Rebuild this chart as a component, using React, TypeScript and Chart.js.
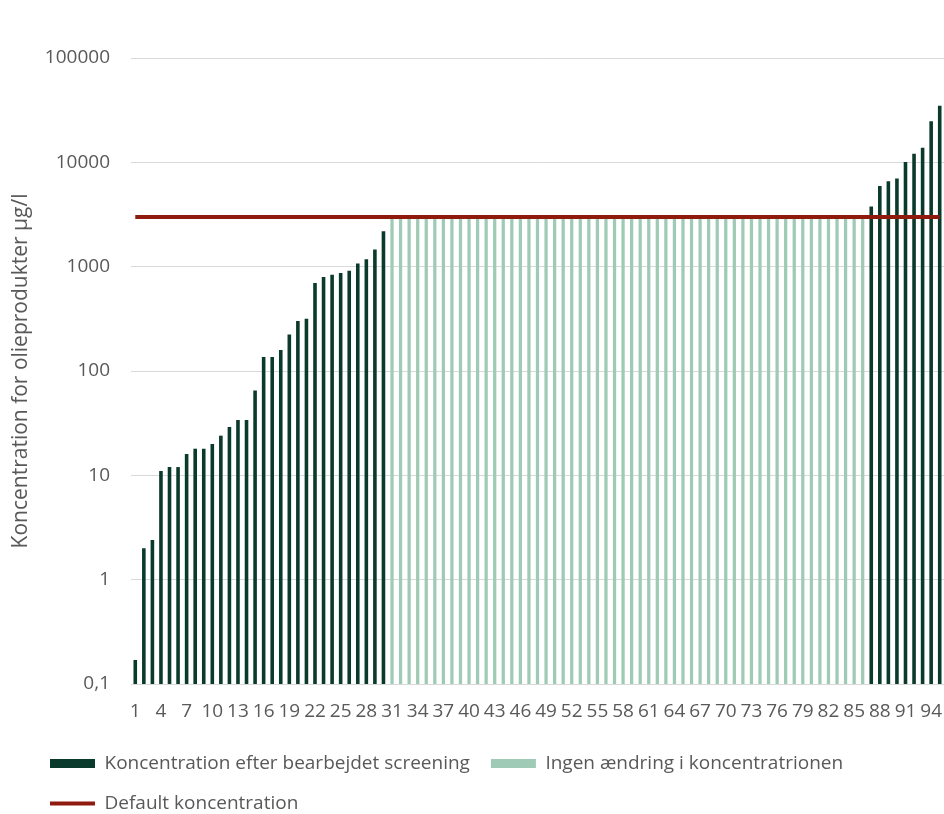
import React, { useEffect, useRef } from "react";
import { Chart, registerables } from "chart.js";

Chart.register(...registerables);

const categories: string[] = [
  "1", "2", "3", "4", "5", "6", "7", "8", "9", "10",
  "11", "12", "13", "14", "15", "16", "17", "18", "19", "20",
  "21", "22", "23", "24", "25", "26", "27", "28", "29", "30",
  "31", "32", "33", "34", "35", "36", "37", "38", "39", "40",
  "41", "42", "43", "44", "45", "46", "47", "48", "49", "50",
  "51", "52", "53", "54", "55", "56", "57", "58", "59", "60",
  "61", "62", "63", "64", "65", "66", "67", "68", "69", "70",
  "71", "72", "73", "74", "75", "76", "77", "78", "79", "80",
  "81", "82", "83", "84", "85", "86", "87", "88", "89", "90",
  "91", "92", "93", "94", "95",
];

// Koncentration efter bearbejdet screening (µg/l)
const screened: (number | null)[] = [
  0.17, 2, 2.4, 11, 12, 12, 16, 18, 18, 20,
  24, 29, 34, 34, 65, 136, 136, 159, 224, 302,
  317, 697, 794, 838, 870, 912, 1070, 1180, 1460, 2180,
  null, null, null, null, null, null, null, null, null, null,
  null, null, null, null, null, null, null, null, null, null,
  null, null, null, null, null, null, null, null, null, null,
  null, null, null, null, null, null, null, null, null, null,
  null, null, null, null, null, null, null, null, null, null,
  null, null, null, null, null, null,
  3770, 5930, 6580, 7000, 10100, 12100, 13800, 24800, 34800,
];

// Ingen ændring i koncentrationen (µg/l)
const unchanged: (number | null)[] = [
  null, null, null, null, null, null, null, null, null, null,
  null, null, null, null, null, null, null, null, null, null,
  null, null, null, null, null, null, null, null, null, null,
  3000, 3000, 3000, 3000, 3000, 3000, 3000, 3000, 3000, 3000,
  3000, 3000, 3000, 3000, 3000, 3000, 3000, 3000, 3000, 3000,
  3000, 3000, 3000, 3000, 3000, 3000, 3000, 3000, 3000, 3000,
  3000, 3000, 3000, 3000, 3000, 3000, 3000, 3000, 3000, 3000,
  3000, 3000, 3000, 3000, 3000, 3000, 3000, 3000, 3000, 3000,
  3000, 3000, 3000, 3000, 3000, 3000,
  null, null, null, null, null, null, null, null, null,
];

// Default koncentration: a flat line from the first to the last category
const defaultLine = [
  { x: "1", y: 3000 },
  { x: "95", y: 3000 },
];

const yTicks: number[] = [0.1, 1, 10, 100, 1000, 10000, 100000];
const yTickLabels: string[] = ["0,1", "1", "10", "100", "1000", "10000", "100000"];

const DARK = "#0a3a2b";
const LIGHT = "#9fcab5";
const RED = "#8e1b0d";
const TEXT = "#595959";
const GRID = "#d9d9d9";
const FONT = "'Open Sans', sans-serif";

const legendShift = {
  id: "legendShift",
  afterLayout(chart: any) {
    const lg = chart.legend;
    if (!lg) return;
    const dy = 733 - lg.top;
    lg.top += dy;
    lg.bottom += dy;
    const dx = 29 - lg.left;
    lg.left += dx;
    lg.right += dx;
  },
};

export default function App() {
  const ref = useRef<HTMLCanvasElement>(null);

  useEffect(() => {
    if (!ref.current) return;
    const chart = new Chart(ref.current, {
      type: "bar",
      data: {
        labels: categories,
        datasets: [
          {
            type: "line",
            label: "Default koncentration",
            data: defaultLine as any,
            borderColor: RED,
            backgroundColor: RED,
            borderWidth: 4,
            pointRadius: 0,
            pointHoverRadius: 0,
            order: 0,
            pointStyle: "line",
          } as any,
          {
            label: "Koncentration efter bearbejdet screening",
            data: screened,
            backgroundColor: DARK,
            borderWidth: 0,
            barPercentage: 0.42,
            categoryPercentage: 1,
            grouped: false,
            order: 1,
            pointStyle: "rect",
          } as any,
          {
            label: "Ingen ændring i koncentratrionen",
            data: unchanged,
            backgroundColor: LIGHT,
            borderWidth: 0,
            barPercentage: 0.38,
            categoryPercentage: 1,
            grouped: false,
            order: 2,
            pointStyle: "rect",
          } as any,
        ],
      },
      options: {
        animation: false,
        responsive: false,
        layout: { padding: { top: 58, left: 0, right: 0, bottom: 0 } },
        plugins: {
          tooltip: { enabled: false },
          legend: {
            position: "bottom",
            align: "start",
            labels: {
              usePointStyle: true,
              pointStyleWidth: 45,
              boxHeight: 9,
              padding: 21,
              color: TEXT,
              font: { family: FONT, size: 19 },
              sort: (a: any, b: any) => {
                const order = [1, 2, 0];
                return order.indexOf(a.datasetIndex) - order.indexOf(b.datasetIndex);
              },
            },
          },
        },
        scales: {
          x: {
            grid: {
              display: true,
              drawOnChartArea: false,
              drawTicks: true,
              tickLength: 16,
              tickColor: "rgba(0,0,0,0)",
              color: "rgba(0,0,0,0)",
            },
            border: { display: false },
            ticks: {
              autoSkip: false,
              maxRotation: 0,
              minRotation: 0,
              padding: 0,
              color: TEXT,
              font: { family: FONT, size: 19 },
              callback: (_v: any, i: number) => (i % 3 === 0 ? categories[i] : ""),
            },
            afterFit: (scale: any) => {
              const lh = scale.chart.legend ? scale.chart.legend.height : 90;
              scale.height = 814 - 684 - lh;
            },
          },
          y: {
            type: "logarithmic",
            min: 0.1,
            max: 100000,
            grid: { color: GRID, lineWidth: 1, drawTicks: false },
            border: { display: false },
            afterBuildTicks: (scale: any) => {
              scale.ticks = yTicks.map((v) => ({ value: v }));
            },
            ticks: {
              padding: 21,
              color: TEXT,
              font: { family: FONT, size: 19 },
              callback: (v: any) => {
                const idx = yTicks.indexOf(Number(v));
                return idx >= 0 ? yTickLabels[idx] : "";
              },
            },
            title: {
              display: true,
              text: "Koncentration for olieprodukter µg/l",
              color: TEXT,
              font: { family: FONT, size: 21 },
              padding: { top: 8, bottom: 0 },
            },
            afterFit: (scale: any) => {
              scale.width = 131;
            },
          },
        },
      } as any,
      plugins: [legendShift],
    });
    return () => chart.destroy();
  }, []);

  return (
    <canvas
      ref={ref}
      width={944}
      height={814}
      style={{ position: "absolute", left: 0, top: 0, display: "block" }}
    />
  );
}
